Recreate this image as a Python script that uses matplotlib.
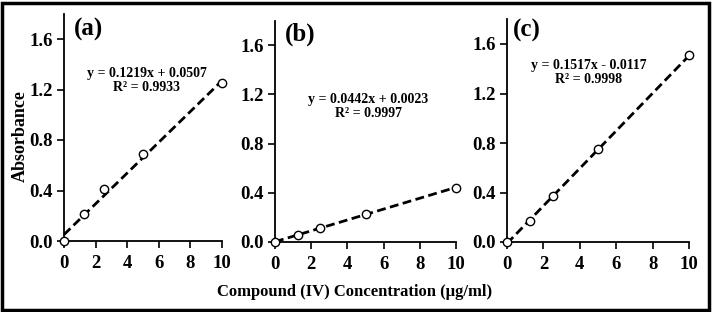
import matplotlib
matplotlib.use("Agg")
import matplotlib.pyplot as plt
from matplotlib.patches import Rectangle
import numpy as np

# -------------------------------
# Data
# -------------------------------
conc = [0, 1.25, 2.5, 5, 10]
abs_a = [0, 0.21, 0.41, 0.69, 1.25]
abs_b = [0, 0.055, 0.115, 0.225, 0.44]
abs_c = [0, 0.17, 0.37, 0.75, 1.51]

fit_a = (0.1219, 0.0507)
fit_b = (0.0442, 0.0023)
fit_c = (0.1517, -0.0117)

eq_a = "y = 0.1219x + 0.0507\nR² = 0.9933"
eq_b = "y = 0.0442x + 0.0023\nR² = 0.9997"
eq_c = "y = 0.1517x - 0.0117\nR² = 0.9998"

panel_labels = ["(a)", "(b)", "(c)"]
xticks = [0, 2, 4, 6, 8, 10]
yticks = [0.0, 0.4, 0.8, 1.2, 1.6]

plt.rcParams["font.family"] = ["Liberation Serif", "DejaVu Serif"]
plt.rcParams["font.weight"] = "bold"

W, H = 712, 312
fig = plt.figure(figsize=(W / 100, H / 100), dpi=100)

# axes boxes in pixels: (x0, x10, y0, pixels per unit y)
boxes = [(64, 222, 241, 126.25), (275, 456, 242, 123.0), (507, 689, 242, 123.75)]
eq_pos = [(5.25, 1.27), (5.14, 1.10), (4.5, 1.37)]
lab_pos = [(74, 18), (285, 23), (513, 19)]
ymax = 1.8

series = [(abs_a, fit_a, eq_a), (abs_b, fit_b, eq_b), (abs_c, fit_c, eq_c)]

for i, ((x0, x1, y0, sc), (ys, (m, b), eq)) in enumerate(zip(boxes, series)):
    ax = fig.add_axes([x0 / W, (H - y0) / H, (x1 - x0) / W, ymax * sc / H])
    xx = np.array([0, 10])
    ax.plot(xx, m * xx + b, ls=(0, (3.2, 1.6)), color="black", lw=2.0, clip_on=True)
    ax.plot(conc, ys, "o", mfc="white", mec="black", ms=6, mew=1.0, clip_on=False,
            zorder=3)
    ax.set_xlim(0, 10)
    ax.set_ylim(0, ymax)
    ax.set_xticks(xticks)
    ax.set_yticks(yticks)
    ax.set_yticklabels([f"{v:.1f}" for v in yticks])
    for s in ["top", "right"]:
        ax.spines[s].set_visible(False)
    for s in ["left", "bottom"]:
        ax.spines[s].set_linewidth(1.3)
    ax.tick_params(axis="y", direction="out", length=5, width=1.2, labelsize=13.5, pad=3)
    ax.tick_params(axis="x", direction="out", length=5, width=1.2, labelsize=13.5, pad=5)
    for lab in ax.get_xticklabels() + ax.get_yticklabels():
        lab.set_fontweight("bold")
    ax.text(eq_pos[i][0], eq_pos[i][1], eq, ha="center", va="center",
            fontsize=10, fontweight="bold", linespacing=1.05)
    fig.text(lab_pos[i][0] / W, 1 - lab_pos[i][1] / H, panel_labels[i],
             ha="left", va="top", fontsize=18, fontweight="bold")

fig.text(20 / W, 1 - 136 / H, "Absorbance", rotation=90, ha="center", va="center",
         fontsize=13, fontweight="bold")
fig.text(355 / W, 1 - 292 / H, "Compound (IV) Concentration (µg/ml)",
         ha="center", va="center", fontsize=12, fontweight="bold")

# outer frame
fig.patches.append(Rectangle((2 / W, 2 / H), 1 - 5 / W, 1 - 5 / H,
                             transform=fig.transFigure, fill=False,
                             edgecolor="black", lw=2.5))

fig.savefig("out.png", dpi=100)
